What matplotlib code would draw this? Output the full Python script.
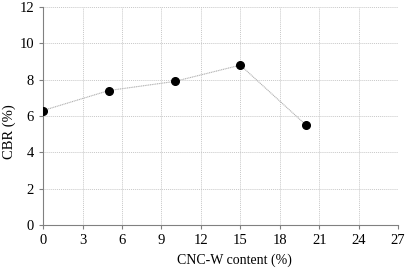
import matplotlib.pyplot as plt

cnc_content = [0, 5, 10, 15, 20]
cbr = [6.3, 7.4, 7.9, 8.8, 5.5]
x_ticks = [0, 3, 6, 9, 12, 15, 18, 21, 24, 27]
y_ticks = [0, 2, 4, 6, 8, 10, 12]

plt.rcParams['font.family'] = ['Liberation Serif', 'DejaVu Serif']

fig = plt.figure(figsize=(4.1, 2.7), dpi=100)
ax = fig.add_axes([0.105, 0.167, 0.866, 0.807])

ax.plot(cnc_content, cbr, color='#b0b0b0', linewidth=0.8, linestyle=(0, (1, 0.6)), zorder=2)
ax.plot(cnc_content, cbr, 'o', color='black', markersize=5.5, zorder=3)

ax.set_xlim(0, 27)
ax.set_ylim(0, 12)
ax.set_xticks(x_ticks)
ax.set_yticks(y_ticks)
ax.grid(True, color='#c8c8c8', linestyle=(0, (1, 1)), linewidth=0.7)
ax.set_axisbelow(True)

for side in ['top', 'right']:
    ax.spines[side].set_visible(False)
for side in ['left', 'bottom']:
    ax.spines[side].set_color('#808080')
    ax.spines[side].set_linewidth(0.8)

ax.tick_params(axis='both', labelsize=10.5, length=3, color='#808080', width=0.8)
ax.set_xlabel('CNC-W content (%)', fontsize=10)
ax.set_ylabel('CBR (%)', fontsize=10.5)
ax.xaxis.set_label_coords(0.538, -0.13)
ax.yaxis.set_label_coords(-0.075, 0.43)

fig.savefig('out.png', dpi=100)
